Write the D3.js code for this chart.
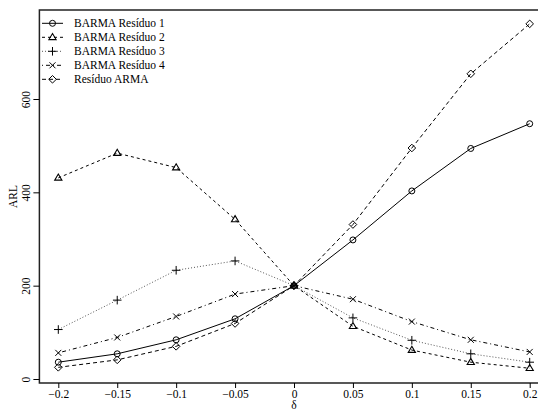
<!DOCTYPE html>
<html>
<head>
<meta charset="utf-8">
<script src="https://cdn.jsdelivr.net/npm/d3@7"></script>
<style>
  body { margin: 0; background: #fff; }
  text { font-family: "Liberation Serif", "DejaVu Serif", serif; }
</style>
</head>
<body>
<div class="chart-container"></div>
<script>
// data
const deltas = [-0.2, -0.15, -0.1, -0.05, 0, 0.05, 0.1, 0.15, 0.2];
const seriesNames = ["BARMA Resíduo 1", "BARMA Resíduo 2", "BARMA Resíduo 3", "BARMA Resíduo 4", "Resíduo ARMA"];
const residuo1 = [36, 54, 84, 129, 200, 298, 403, 494, 547];
const residuo2 = [431, 484, 453, 342, 200, 113, 62, 36, 23];
const residuo3 = [106, 169, 233, 253, 200, 131, 83, 54, 36];
const residuo4 = [56, 89, 134, 182, 200, 171, 123, 84, 58];
const residuoArma = [25, 41, 70, 119, 200, 331, 495, 654, 761];
const xTicks = [-0.2, -0.15, -0.1, -0.05, 0, 0.05, 0.1, 0.15, 0.2];
const yTicks = [0, 200, 400, 600];

function draw() {
    const width = 538;
    const height = 412;
    const fontSize = 11.5;

    // plot box
    const boxLeft = 39.4, boxRight = 549, boxTop = 10, boxBottom = 383;

    const x = d3.scaleLinear().domain([-0.2, 0.2]).range([58.3, 529.7]);
    const y = d3.scaleLinear().domain([0, 600]).range([379, 99]);

    const svg = d3.select('.chart-container').append('svg')
        .attr('width', width)
        .attr('height', height);

    const styles = [
        { values: residuo1, dash: null, color: '#000', symbol: 'circle' },
        { values: residuo2, dash: '3,3', color: '#000', symbol: 'triangle' },
        { values: residuo3, dash: '1,2', color: '#555', symbol: 'plus' },
        { values: residuo4, dash: '1,3,4,3', color: '#000', symbol: 'cross' },
        { values: residuoArma, dash: '4,3', color: '#000', symbol: 'diamond' }
    ];

    function drawSymbol(g, kind, cx, cy) {
        if (kind === 'circle') {
            g.append('circle').attr('cx', cx).attr('cy', cy).attr('r', 3)
                .attr('fill', 'none').attr('stroke', '#000').attr('stroke-width', 1);
        } else if (kind === 'triangle') {
            const r = 3.8;
            g.append('path')
                .attr('d', `M${cx},${cy - r}L${cx + r * 0.95},${cy + r * 0.6}L${cx - r * 0.95},${cy + r * 0.6}Z`)
                .attr('fill', 'none').attr('stroke', '#000').attr('stroke-width', 1.1);
        } else if (kind === 'plus') {
            const r = 4.3;
            g.append('path')
                .attr('d', `M${cx - r},${cy}H${cx + r}M${cx},${cy - r}V${cy + r}`)
                .attr('stroke', '#000').attr('stroke-width', 1);
        } else if (kind === 'cross') {
            const r = 3;
            g.append('path')
                .attr('d', `M${cx - r},${cy - r}L${cx + r},${cy + r}M${cx - r},${cy + r}L${cx + r},${cy - r}`)
                .attr('stroke', '#000').attr('stroke-width', 1);
        } else if (kind === 'diamond') {
            const r = 3.8;
            g.append('path')
                .attr('d', `M${cx},${cy - r}L${cx + r},${cy}L${cx},${cy + r}L${cx - r},${cy}Z`)
                .attr('fill', 'none').attr('stroke', '#000').attr('stroke-width', 1);
        }
    }

    const line = d3.line()
        .x((d, i) => x(deltas[i]))
        .y(d => y(d));

    const plot = svg.append('g')
        .attr('clip-path', 'url(#clip)');

    svg.append('clipPath').attr('id', 'clip')
        .append('rect')
        .attr('x', boxLeft).attr('y', boxTop)
        .attr('width', boxRight - boxLeft).attr('height', boxBottom - boxTop);

    styles.forEach(s => {
        plot.append('path')
            .datum(s.values)
            .attr('d', line)
            .attr('fill', 'none')
            .attr('stroke', s.color)
            .attr('stroke-width', 1)
            .attr('stroke-dasharray', s.dash);
        const pts = plot.append('g');
        s.values.forEach((v, i) => drawSymbol(pts, s.symbol, x(deltas[i]), y(v)));
    });

    // box
    svg.append('path')
        .attr('d', `M${boxRight},${boxTop}H${boxLeft}V${boxBottom}H${boxRight}`)
        .attr('fill', 'none')
        .attr('stroke', '#222')
        .attr('stroke-width', 1.5);

    // x axis
    const xAxis = svg.append('g')
        .attr('transform', `translate(0,${boxBottom})`)
        .call(d3.axisBottom(x).tickValues(xTicks).tickSize(5).tickSizeOuter(0)
            .tickFormat(d => d3.format('')(d).replace('-', '\u2212')));
    xAxis.select('.domain').remove();
    xAxis.selectAll('.tick text').attr('font-size', fontSize).attr('fill', '#000')
        .attr('font-family', '"Liberation Serif", serif').attr('dy', '0.95em').attr('y', 4.5);

    svg.append('text')
        .attr('x', x(0)).attr('y', 409)
        .attr('text-anchor', 'middle')
        .attr('font-size', fontSize)
        .text('δ');

    // y axis
    const yAxis = svg.append('g')
        .attr('transform', `translate(${boxLeft},0)`)
        .call(d3.axisLeft(y).tickValues(yTicks).tickSize(6).tickSizeOuter(0));
    yAxis.select('.domain').remove();
    yAxis.selectAll('.tick text')
        .attr('font-size', fontSize).attr('fill', '#000')
        .attr('font-family', '"Liberation Serif", serif')
        .attr('x', null).attr('dy', null)
        .attr('text-anchor', 'middle')
        .attr('transform', 'translate(-9,0) rotate(-90)');

    svg.append('text')
        .attr('transform', `translate(17,${(boxTop + boxBottom) / 2}) rotate(-90)`)
        .attr('text-anchor', 'middle')
        .attr('font-size', fontSize)
        .text('ARL');

    // legend
    const legend = svg.append('g');
    styles.forEach((s, i) => {
        const ly = 23.3 + i * 14;
        legend.append('line')
            .attr('x1', 42).attr('x2', 63).attr('y1', ly).attr('y2', ly)
            .attr('stroke', s.color).attr('stroke-width', 1)
            .attr('stroke-dasharray', s.dash);
        drawSymbol(legend, s.symbol, 52.5, ly);
        legend.append('text')
            .attr('x', 74).attr('y', ly).attr('dy', '0.35em')
            .attr('font-size', fontSize)
            .text(seriesNames[i]);
    });
}

draw();
</script>
</body>
</html>
